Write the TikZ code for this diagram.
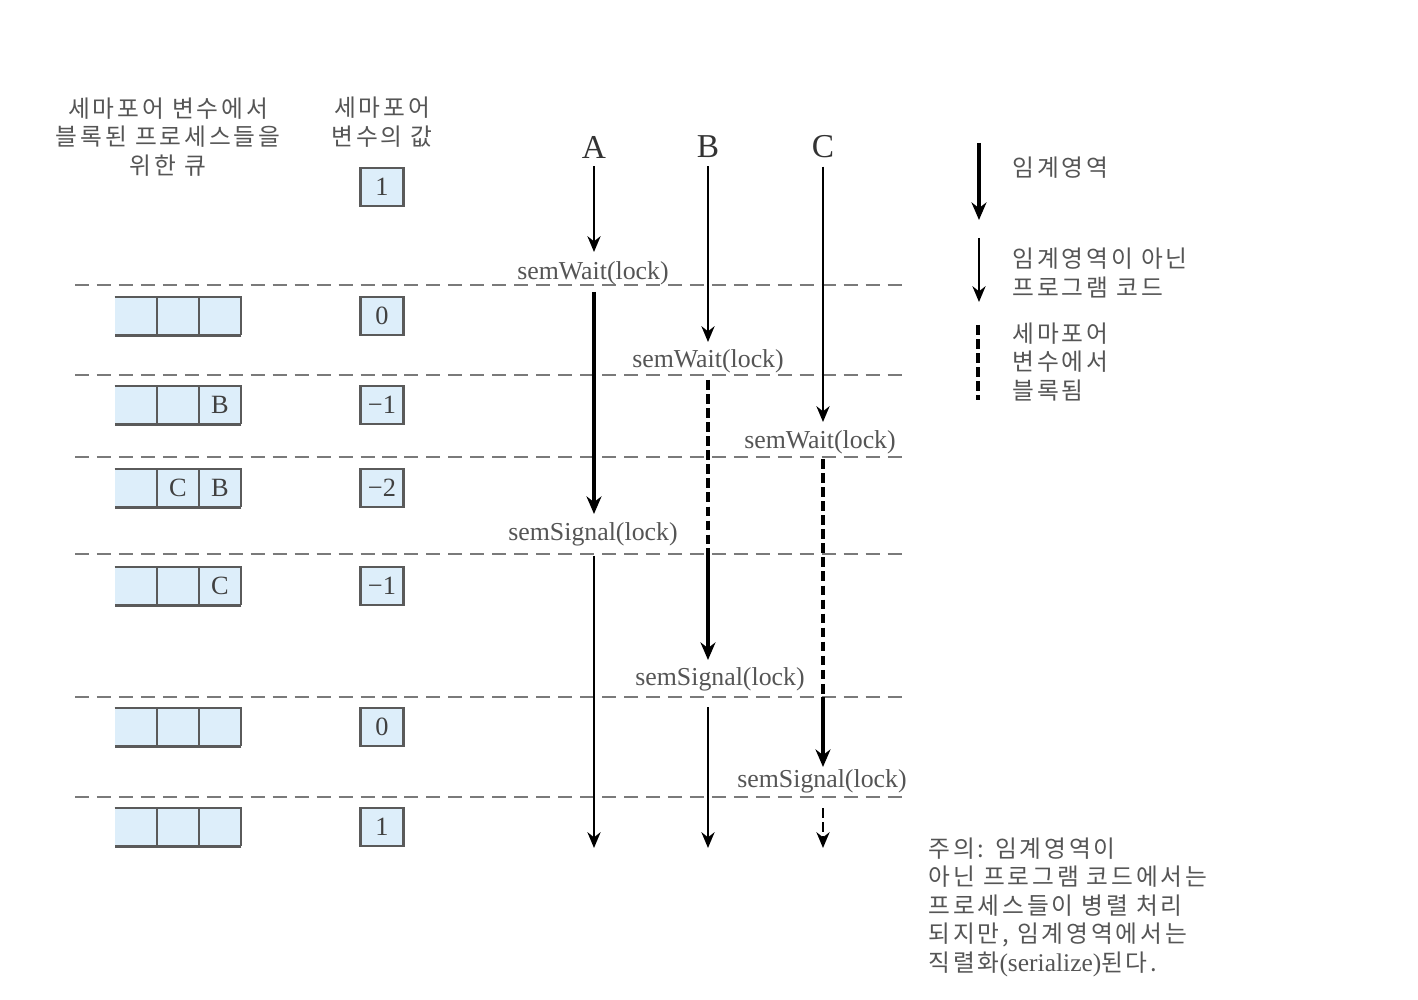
\documentclass[tikz,border=0pt]{standalone}
\usepackage{fontspec}
\setmainfont{Liberation Serif}
\newfontfamily\kr[LetterSpace=12]{Noto Sans CJK KR}
\newfontfamily\latinser{Liberation Serif}
\usetikzlibrary{arrows.meta}
\definecolor{boxfill}{HTML}{DDEEFA}
\definecolor{txtgray}{HTML}{555555}
\definecolor{linegray}{HTML}{7A7A7A}
\definecolor{boxline}{HTML}{5A5A5A}
\tikzset{
  sep/.style={draw=linegray, line width=1.1pt, dash pattern=on 8pt off 4.5pt},
  thinarr/.style={draw=black, line width=1.2pt, -{Stealth[length=9pt,width=7.5pt]}},
  thickarr/.style={draw=black, line width=2.4pt, -{Stealth[length=10pt,width=8.5pt]}},
  blockdash/.style={draw=black, line width=1.9pt, dash pattern=on 5.5pt off 2.5pt},
  krtext/.style={font=\kr\fontsize{13.5}{16.4}\selectfont, text=txtgray, inner sep=0pt},
  semlabel/.style={font=\fontsize{14.7}{17}\selectfont, text=txtgray, inner sep=1pt},
  proc/.style={font=\fontsize{19}{22}\selectfont, text=black!80, inner sep=0pt},
  valbox/.style={draw=boxline, line width=1.3pt, fill=boxfill, minimum width=0.86cm, minimum height=0.76cm, inner sep=0pt, font=\fontsize{15}{17}\selectfont, text=black!75},
  qcell/.style={fill=boxfill, minimum width=0.84cm, minimum height=0.76cm, inner sep=0pt, font=\fontsize{15}{17}\selectfont, text=black!75},
  qline/.style={draw=boxline, line width=1.2pt},
}
\newcommand\myqueue[5]{%
  \node[qcell] (#1-1) at (136,#2) {#3};
  \node[qcell] (#1-2) at (178,#2) {#4};
  \node[qcell] (#1-3) at (220,#2) {#5};
  \draw[qline] (#1-1.north west) -- (#1-3.north east) -- (#1-3.south east);
  \draw[qline, line width=2pt] (#1-3.south east) -- (#1-1.south west);
  \draw[qline] (#1-1.north east) -- (#1-1.south east);
  \draw[qline] (#1-2.north east) -- (#1-2.south east);
}
\begin{document}
\begin{tikzpicture}[x=0.02cm, y=-0.02cm]
\useasboundingbox (0,0) rectangle (1418,1000);
\fill[white] (0,0) rectangle (1418,1000);

% headers
\node[krtext, align=center] (hq) at (168,137) {세마포어 변수에서\\블록된 프로세스들을\\위한 큐};
\node[krtext, align=center] (hv) at (382,122) {세마포어\\변수의 값};

% process labels
\node[proc] (pA) at (594,147) {A};
\node[proc] (pB) at (708,147) {B};
\node[proc] (pC) at (823,147) {C};

% separator lines
\foreach \y/\n in {285/s1, 375/s2, 457/s3, 554/s4, 697/s5, 797/s6} {
  \coordinate (\n l) at (75,\y);
  \coordinate (\n r) at (908,\y);
  \draw[sep] (\n l) -- (\n r);
}

% value boxes
\node[valbox] (v0) at (382,187) {1};
\node[valbox] (v1) at (382,316) {0};
\node[valbox] (v2) at (382,405) {−1};
\node[valbox] (v3) at (382,488) {−2};
\node[valbox] (v4) at (382,586) {−1};
\node[valbox] (v5) at (382,727) {0};
\node[valbox] (v6) at (382,827) {1};

% queues
\myqueue{q1}{316}{}{}{}
\myqueue{q2}{405}{}{}{B}
\myqueue{q3}{488}{}{C}{B}
\myqueue{q4}{586}{}{}{C}
\myqueue{q5}{727}{}{}{}
\myqueue{q6}{827}{}{}{}

% semaphore labels
\node[semlabel] (wA) at (593,273) {semWait(lock)};
\node[semlabel] (wB) at (708,361) {semWait(lock)};
\node[semlabel] (wC) at (820,442) {semWait(lock)};
\node[semlabel] (gA) at (593,534) {semSignal(lock)};
\node[semlabel] (gB) at (720,679) {semSignal(lock)};
\node[semlabel] (gC) at (822,781) {semSignal(lock)};

% process A
\coordinate (A1) at (594,292); \coordinate (A2) at (594,514);
\coordinate (A3) at (594,556); \coordinate (A4) at (594,848);
\draw[thinarr] (pA.south) ++(0,8) -- (594,252);
\draw[thickarr] (A1) -- (A2);
\draw[thinarr] (A3) -- (A4);

% process B
\coordinate (B1) at (708,380); \coordinate (B2) at (708,548);
\coordinate (B3) at (708,660); \coordinate (B4) at (708,707); \coordinate (B5) at (708,848);
\draw[thinarr] (pB.south) ++(0,8) -- (708,342);
\draw[blockdash] (B1) -- (B2);
\draw[thickarr] (B2) -- (B3);
\draw[thinarr] (B4) -- (B5);

% process C
\coordinate (C1) at (823,459); \coordinate (C2) at (823,697);
\coordinate (C3) at (823,767); \coordinate (C4) at (823,808); \coordinate (C5) at (823,848);
\draw[thinarr] (pC.south) ++(0,8) -- (823,422);
\draw[blockdash] (C1) -- (C2);
\draw[thickarr] (C2) -- (C3);
\draw[blockdash, -{Stealth[length=9pt,width=7.5pt]}, line width=1.3pt] (C4) -- (C5);

% legend
\coordinate (L1a) at (979,143); \coordinate (L1b) at (979,220);
\coordinate (L2a) at (979,238); \coordinate (L2b) at (979,302);
\coordinate (L3a) at (978,325); \coordinate (L3b) at (978,400);
\draw[thickarr] (L1a) -- (L1b);
\draw[thinarr] (L2a) -- (L2b);
\draw[blockdash] (L3a) -- (L3b);
\node[krtext, anchor=west] (lg1) at (1012,168) {임계영역};
\node[krtext, anchor=west, align=left] (lg2) at (1012,273) {임계영역이 아닌\\프로그램 코드};
\node[krtext, anchor=west, align=left] (lg3) at (1012,362) {세마포어\\변수에서\\블록됨};

% note
\node[krtext, anchor=west, align=left, font=\kr\fontsize{13.5}{16.2}\selectfont] (note) at (928,907) {주의: 임계영역이\\아닌 프로그램 코드에서는\\프로세스들이 병렬 처리\\되지만, 임계영역에서는\\직렬화{\latinser\fontsize{14.5}{16.2}\selectfont (serialize)}된다.};
\end{tikzpicture}
\end{document}
